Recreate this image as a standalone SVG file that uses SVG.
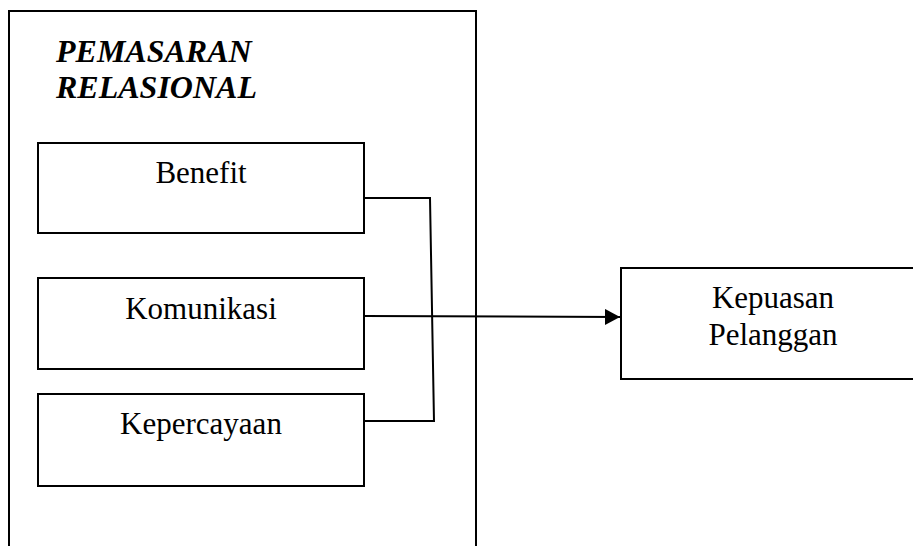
<svg xmlns="http://www.w3.org/2000/svg" width="913" height="546" viewBox="0 0 913 546">
<style>
.box{fill:#fff;stroke:#000;stroke-width:2}
.t{font-family:'Liberation Serif','Times New Roman',Tinos,'DejaVu Serif',serif;font-size:31px;fill:#000;text-anchor:middle}
.title{font-family:'Liberation Serif','Times New Roman',Tinos,'DejaVu Serif',serif;font-size:32px;font-weight:bold;font-style:italic;fill:#000}
.c{fill:none;stroke:#000;stroke-width:2}
</style>
<defs>
<marker id="ah" markerWidth="7.5" markerHeight="8" refX="7.5" refY="4" orient="auto" markerUnits="strokeWidth">
<path d="M0,0 L7.5,4 L0,8 Z" fill="#000"/>
</marker>
</defs>
<g id="pemasaran">
<rect class="box" x="9" y="11" width="467" height="545"/>
<text class="title" x="56" y="62">PEMASARAN</text>
<text class="title" x="56" y="98">RELASIONAL</text>
</g>
<g id="benefit">
<rect class="box" x="38" y="143" width="326" height="90"/>
<text class="t" x="201" y="183">Benefit</text>
</g>
<g id="komunikasi">
<rect class="box" x="38" y="278" width="326" height="91"/>
<text class="t" x="201" y="319">Komunikasi</text>
</g>
<g id="kepercayaan">
<rect class="box" x="38" y="394" width="326" height="92"/>
<text class="t" x="201" y="434">Kepercayaan</text>
</g>
<g id="kepuasan">
<rect class="box" x="621" y="268" width="300" height="111"/>
<text class="t" x="773" y="308">Kepuasan</text>
<text class="t" x="773" y="345">Pelanggan</text>
</g>
<g id="connectors">
<polyline class="c" points="365,198 430,198 434,421 365,421"/>
<line class="c" x1="365" y1="316" x2="620" y2="317" marker-end="url(#ah)"/>
</g>
</svg>
